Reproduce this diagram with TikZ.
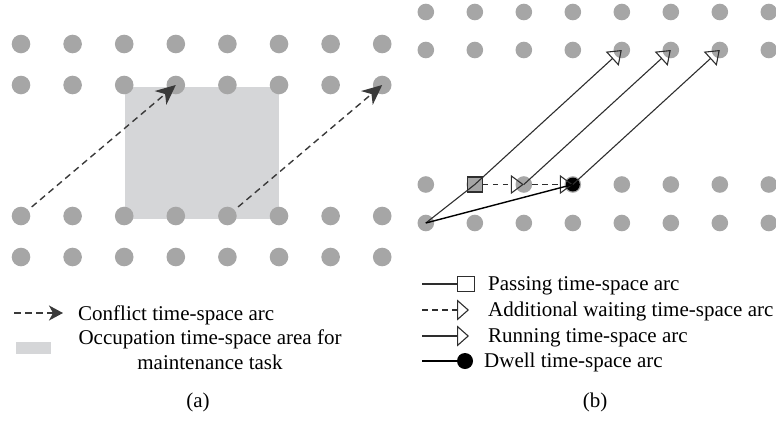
\documentclass[tikz,border=0pt]{standalone}
\usepackage{fontspec}
\setmainfont{Liberation Serif}
\usetikzlibrary{arrows.meta}

\definecolor{dotgray}{HTML}{A6A6A6}
\definecolor{areagray}{HTML}{D5D6D8}
\definecolor{arcgray}{HTML}{3A3A3A}
\definecolor{linegray}{HTML}{2E2E2E}

\begin{document}
\begin{tikzpicture}[x=1pt,y=-1pt,
  lab/.style={font=\fontsize{21}{25}\selectfont,inner sep=0pt,text=black},
  dota/.style={circle,fill=dotgray,minimum size=18.6pt,inner sep=0pt},
  dotb/.style={circle,fill=dotgray,minimum size=16.6pt,inner sep=0pt},
  conflict/.style={draw=arcgray,line width=1.4pt,dash pattern=on 6.5pt off 4.5pt,
    -{Stealth[length=20pt,width=18pt,inset=6pt,fill=arcgray]}},
  runtip/.style={-{Triangle[open,length=13pt,width=19pt,line width=1.1pt]}},
  runarc/.style={draw=linegray,line width=1.1pt},
  waitarc/.style={draw=linegray,line width=1.1pt,dash pattern=on 5.5pt off 4.5pt},
  dwellarc/.style={draw=black,line width=1.4pt},
  passbox/.style={draw=linegray,line width=1.1pt,fill=dotgray,minimum size=15pt,inner sep=0pt},
  dwelldot/.style={circle,fill=black,minimum size=14pt,inner sep=0pt}
]
\useasboundingbox (0,0) rectangle (776,421);

% ---------- panel (a) ----------
\fill[areagray] (125,87) rectangle (279,219);
\foreach \r/\yy in {0/44,1/85,2/216,3/257}
  \foreach \c in {0,...,7}
    \node[dota] (a-\r-\c) at ({21+51.6*\c},\yy) {};

\draw[conflict,shorten <=14pt] (a-2-0.center) -- (a-1-3.center);
\draw[conflict,shorten <=14pt] (a-2-4.center) -- (a-1-7.center);

% legend (a)
\coordinate (la1s) at (14,313);
\coordinate (la1e) at (63,313);
\draw[conflict,-{Stealth[length=14pt,width=15pt,inset=4pt,fill=arcgray]}] (la1s) -- (la1e);
\node[lab,anchor=base west] (la1t) at (78,320) {Conflict time-space arc};
\fill[areagray] (16,342) rectangle (51,354);
\node[lab,anchor=base,align=center] (la2t) at (210,369)
  {Occupation time-space area for\\maintenance task};
\node[lab] (capa) at (198,402) {(a)};

% ---------- panel (b) ----------
\foreach \r/\yy in {0/12,1/50,2/184.5,3/223}
  \foreach \c in {0,...,7}
    \node[dotb] (b-\r-\c) at ({425.8+49*\c},\yy) {};

\node[passbox] (pass) at (b-2-1) {};
\node[dwelldot] (dwell) at (b-2-3) {};

\draw[runarc] (b-3-0.center) -- (pass.center);
\draw[runarc,runtip] (pass.center) -- (b-1-4.center);
\draw[waitarc,runtip] (pass) -- (b-2-2.center);
\draw[runarc,runtip] (b-2-2.center) -- (b-1-5.center);
\draw[waitarc,runtip] (b-2-2) -- (b-2-3.center);
\draw[dwellarc] (b-3-0.center) -- (dwell.center);
\draw[runarc,runtip] (dwell.center) -- (b-1-6.center);

% legend (b)
\node[passbox,fill=white,minimum width=16.5pt,minimum height=15pt,anchor=west] (lb1e) at (457,284) {};
\coordinate (lb1s) at (422,284);
\draw[runarc] (lb1s) -- (lb1e);
\node[lab,anchor=base west] at (488,290) {Passing time-space arc};

\coordinate (lb2s) at (422,310);
\coordinate (lb2e) at (469,310);
\draw[waitarc,-{Triangle[open,length=12pt,width=21pt,line width=1.1pt]}] (lb2s) -- (lb2e);
\node[lab,anchor=base west] at (488,316) {Additional waiting time-space arc};

\coordinate (lb3s) at (422,336);
\coordinate (lb3e) at (469,336);
\draw[runarc,-{Triangle[open,length=12pt,width=21pt,line width=1.1pt]}] (lb3s) -- (lb3e);
\node[lab,anchor=base west] at (488,342) {Running time-space arc};

\node[dwelldot,minimum size=16pt] (lb4e) at (465,361) {};
\coordinate (lb4s) at (422,361);
\draw[dwellarc] (lb4s) -- (lb4e);
\node[lab,anchor=base west] at (484,367) {Dwell time-space arc};

\node[lab] (capb) at (595,402) {(b)};
\end{tikzpicture}
\end{document}
